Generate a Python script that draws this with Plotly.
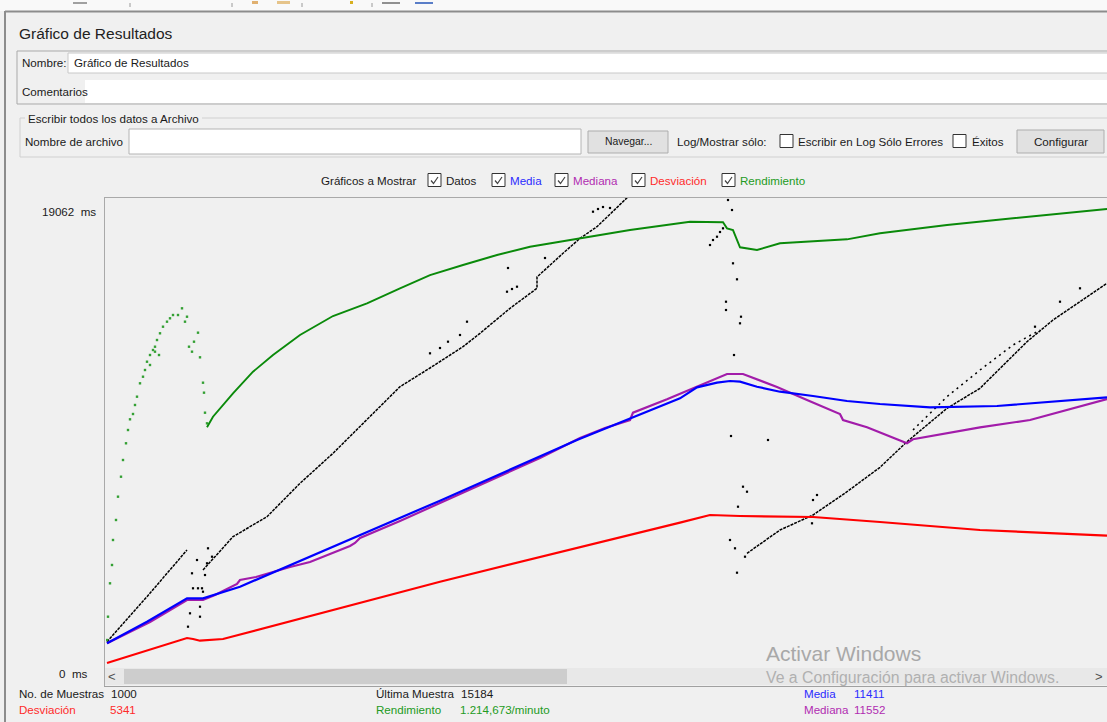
import plotly.graph_objects as go

W, H = 1107, 722
FONT = "Liberation Sans"

# ---------------- series data (x = sample index, y = milliseconds) ----------------
# Datos: individual response times, drawn as dotted runs plus loose points
datos_a_x = [1, 41, 81]
datos_a_y = [990, 2823, 4725]

datos_b_x = [97, 127, 161, 194, 227, 261, 294, 324, 357, 374, 404, 431, 431, 457, 474, 491, 517, 526]
datos_b_y = [3910, 5266, 6081, 7441, 8663, 10020, 11376, 12138, 13005, 13551, 14569, 15384, 15844,
             16809, 17420, 17893, 18911, 19265]

datos_c_x = [641, 674, 707, 741, 774, 801, 841, 874, 921, 947, 974, 1001]
datos_c_y = [4590, 5539, 6150, 7099, 8093, 9136, 10496, 11311, 13209, 14093, 14838, 15587]

datos_c2_x = [807, 841, 874, 891, 907, 934]
datos_c2_y = [9612, 10969, 12056, 12598, 13074, 13685]

datos_sueltos_x = [82, 84, 86, 87, 91, 92, 94, 94, 96, 97, 99, 102, 106, 101,
                   324, 334, 342, 354, 361, 401, 406, 411, 402, 439, 487, 492, 497, 504,
                   604, 607, 611, 614, 617, 622, 626, 627, 631, 620, 620, 635, 634, 628,
                   625, 662, 637, 641, 632, 624, 629, 639, 631,
                   711, 707, 706, 974, 954, 929]
datos_sueltos_y = [1601, 2146, 3776, 3165, 4317, 3165, 2415, 2008, 3165, 3026, 3706, 4794, 4452, 4183,
                   12736, 12952, 13209, 13482, 14024, 15245, 15355, 15449, 16211, 16618, 18504, 18614,
                   18695, 18655,
                   17147, 17351, 17485, 17677, 17827, 18980, 18573, 16402, 15750, 14838, 14500, 14227,
                   13958, 12667, 9368, 9205, 7303, 7099, 6488, 5132, 4794, 4452, 3800,
                   6965, 6761, 5812, 15384, 14838, 13820]

# Media (running average)
media_x = [1, 41, 81, 97, 134, 334, 471, 574, 591, 611, 624, 634, 651, 674, 707, 741, 774, 824, 891,
           941, 1001]
media_y = [925, 1804, 2757, 2757, 3230, 6733, 9205, 10903, 11351, 11539, 11608, 11580, 11376, 11172,
           10997, 10793, 10671, 10537, 10590, 10753, 10944]

# Mediana (running median)
mediana_x = [1, 44, 81, 97, 109, 131, 134, 150, 184, 204, 244, 249, 254, 294, 334, 394, 434, 474,
             499, 524, 527, 561, 591, 621, 637, 671, 701, 734, 737, 761, 801, 807, 874, 924, 1001]
mediana_y = [925, 1792, 2688, 2688, 2892, 3340, 3503, 3625, 4032, 4236, 4888, 5010, 5213, 5906,
             6639, 7739, 8472, 9286, 9694, 10020, 10317, 10863, 11376, 11893, 11893, 11364, 10834,
             10264, 10020, 9722, 9071, 9234, 9722, 10020, 10875]

# Desviación (standard deviation)
desviacion_x = [1, 81, 87, 94, 117, 334, 574, 604, 634, 707, 774, 874, 1001]
desviacion_y = [122, 1140, 1100, 1030, 1100, 3434, 5837, 6150, 6110, 6069, 5865, 5539, 5307]

# Rendimiento (throughput, scaled onto the same axis); first samples appear as loose points
rend_puntos_x = [1, 2, 4, 6, 7, 10, 12, 15, 17, 20, 22, 24, 27, 29, 31, 34, 37, 39, 41, 44, 44, 47,
                 49, 49, 51, 53, 54, 57, 61, 64, 67, 72, 76, 79, 81, 83, 86, 88, 92, 94, 97, 98, 99, 101]
rend_puntos_y = [1059, 2008, 3368, 4114, 5132, 5947, 6896, 7710, 8390, 9071, 9612, 10048, 10264,
                 10631, 10969, 11514, 11783, 12056, 12394, 12667, 12260, 12871, 13005, 12802, 13278,
                 12667, 13551, 13820, 14024, 14162, 14296, 14296, 14569, 14024, 14227, 13005, 12802,
                 13209, 13576, 12573, 11539, 11132, 10317, 9885]
rend_x = [101, 107, 127, 147, 167, 194, 227, 261, 294, 324, 357, 391, 424, 474, 524, 584, 604, 617,
          621, 627, 634, 651, 674, 741, 774, 841, 907, 1001]
rend_y = [9722, 10154, 11107, 11987, 12667, 13482, 14256, 14773, 15384, 15925, 16333, 16740, 17078,
          17420, 17758, 18096, 18084, 18072, 17827, 17758, 17054, 16944, 17217, 17379, 17624, 17962,
          18235, 18614]

Y_MAX = 19062
STATS = {"muestras": "1000", "ultima": "15184", "media": "11411", "mediana": "11552",
         "desviacion": "5341", "rendimiento": "1.214,673/minuto"}

# ---------------- colours ----------------
C_BG = "#f0f0f0"
C_BORDER = "#a9a9a9"
C_BLUE = "#0000ff"
C_PURPLE = "#a21caa"
C_RED = "#ff0000"
C_GREEN = "#0a8a0a"
C_TXT_BLUE = "#2b2bff"
C_TXT_PURPLE = "#b02cb0"
C_TXT_RED = "#ff2a2a"
C_TXT_GREEN = "#239b23"


def fx(px):
    return px / W


def fy(py):
    return 1 - py / H


shapes = []
annotations = []


def rect(x0, y0, x1, y1, fill=None, line=None, lw=1):
    shapes.append(dict(type="rect", xref="paper", yref="paper",
                       x0=fx(x0), x1=fx(x1), y0=fy(y1), y1=fy(y0),
                       fillcolor=fill if fill else "rgba(0,0,0,0)",
                       line=dict(color=line if line else "rgba(0,0,0,0)", width=lw if line else 0),
                       layer="below"))


def hline(x0, x1, y, color=C_BORDER, lw=1):
    shapes.append(dict(type="line", xref="paper", yref="paper", x0=fx(x0), x1=fx(x1),
                       y0=fy(y), y1=fy(y), line=dict(color=color, width=lw), layer="above"))


def vline(x, y0, y1, color=C_BORDER, lw=1):
    shapes.append(dict(type="line", xref="paper", yref="paper", x0=fx(x), x1=fx(x),
                       y0=fy(y0), y1=fy(y1), line=dict(color=color, width=lw), layer="above"))


def text(x, y, s, size=11.6, color="#1a1a1a", anchor="left", family=FONT):
    annotations.append(dict(x=fx(x), y=fy(y), xref="paper", yref="paper", text=s, showarrow=False,
                            xanchor=anchor, yanchor="middle", borderpad=0,
                            font=dict(size=size, color=color, family=family)))


def checkbox(x, y, checked):
    rect(x, y - 6.5, x + 13, y + 6.5, fill="#ffffff", line="#333333")
    if checked:
        p = "M {} {} L {} {} L {} {}".format(fx(x + 3), fy(y + 0.5), fx(x + 5.5), fy(y + 3.5),
                                            fx(x + 10), fy(y - 3))
        shapes.append(dict(type="path", xref="paper", yref="paper", path=p,
                           line=dict(color="#444444", width=1.2), layer="above"))


# ---------------- window chrome ----------------
rect(0, 0, W, 11, fill="#f9f9f9")
for sx in [130, 232, 302, 372]:
    vline(sx, 3, 7, color="#9a9a9a")
rect(73, 2, 87, 4, fill="#a0a0a0")
rect(252, 1, 258, 4, fill="#e0b070")
rect(277, 1, 290, 4, fill="#e6c48a")
rect(350, 1, 353, 4, fill="#d8b020")
rect(382, 2, 400, 4, fill="#909090")
rect(415, 2, 433, 4, fill="#5a7ec8")
hline(5, W, 11.5, color="#8c8c8c", lw=2)
vline(5, 11, H, color="#8c8c8c", lw=2)

text(18, 34, "Gráfico de Resultados", size=15.5, color="#222222")

# name / comments block
rect(17, 51, W + 2, 104, line=C_BORDER)
rect(68, 53, W + 2, 73, fill="#ffffff", line="#c8c8c8")
text(21, 63, "Nombre:")
text(73, 63, "Gráfico de Resultados")
rect(85, 80, W + 2, 103, fill="#ffffff")
text(21, 91, "Comentarios")

# file group
rect(20, 118, W + 2, 157, line="#d0d0d0")
rect(25, 112, 202, 124, fill=C_BG)
text(27, 118, "Escribir todos los datos a Archivo")
text(24, 141, "Nombre de archivo")
rect(129, 129, 581, 154, fill="#ffffff", line="#b4b4b4")
rect(588, 131, 668, 153, fill="#e1e1e1", line="#adadad")
text(628, 141, "Navegar...", size=10.4, anchor="center")
text(676, 141, "Log/Mostrar sólo:")
checkbox(780, 141, False)
text(797, 141, "Escribir en Log Sólo Errores")
checkbox(953, 141, False)
text(971, 141, "Éxitos")
rect(1017, 130, 1104, 153, fill="#e1e1e1", line="#adadad")
text(1060.5, 141, "Configurar", anchor="center")

# series selector row
text(320, 180, "Gráficos a Mostrar")
for bx, lab, col in [(428, "Datos", "#1a1a1a"), (492, "Media", C_TXT_BLUE), (555, "Mediana", C_TXT_PURPLE),
                     (632, "Desviación", C_TXT_RED), (722, "Rendimiento", C_TXT_GREEN)]:
    checkbox(bx, 180, True)
    text(bx + 17, 180, lab, color=col)

# plot frame + scrollbar
hline(104, W, 197.5, color=C_BORDER)
vline(104.5, 197, 687, color=C_BORDER)
rect(105, 668, W + 2, 685, fill="#e8e8e8")
rect(124, 669, 567, 684, fill="#cdcdcd")
hline(104, W, 686.5, color="#a0a0a0")
text(112, 676, "<", size=13, color="#505050", anchor="center")
text(1099, 676, ">", size=13, color="#505050", anchor="center")

text(97, 211, "{}  ms".format(Y_MAX), anchor="right")
text(89, 673, "0  ms", anchor="right")

# statistics footer
text(18, 693, "No. de Muestras")
text(110, 693, STATS["muestras"])
text(375, 693, "Última Muestra")
text(460, 693, STATS["ultima"])
text(803, 693, "Media", color=C_TXT_BLUE)
text(853, 693, STATS["media"], color=C_TXT_BLUE)
text(18, 709, "Desviación", color=C_TXT_RED)
text(109, 709, STATS["desviacion"], color=C_TXT_RED)
text(375, 709, "Rendimiento", color=C_TXT_GREEN)
text(459, 709, STATS["rendimiento"], color=C_TXT_GREEN)
text(803, 709, "Mediana", color=C_TXT_PURPLE)
text(853, 709, STATS["mediana"], color=C_TXT_PURPLE)

# OS activation watermark
text(765, 653, "Activar Windows", size=21, color="#a8a8a8")
text(765, 677, "Ve a Configuración para activar Windows.", size=15.8, color="#b0b0b0")

# ---------------- traces ----------------
fig = go.Figure()


def run(xs, ys, dash="3px,1px", width=1.5):
    fig.add_trace(go.Scatter(x=xs, y=ys, mode="lines", hoverinfo="skip",
                             line=dict(color="#000000", width=width, dash=dash)))


run(datos_a_x, datos_a_y)
run(datos_b_x, datos_b_y)
run(datos_c_x, datos_c_y)
run(datos_c2_x, datos_c2_y, dash="2px,4px")
fig.add_trace(go.Scatter(x=datos_sueltos_x, y=datos_sueltos_y, mode="markers", hoverinfo="skip",
                         marker=dict(symbol="square", size=2.2, color="#000000", line=dict(width=0))))

fig.add_trace(go.Scatter(x=mediana_x, y=mediana_y, mode="lines", hoverinfo="skip",
                         line=dict(color=C_PURPLE, width=2.2)))
fig.add_trace(go.Scatter(x=media_x, y=media_y, mode="lines", hoverinfo="skip",
                         line=dict(color=C_BLUE, width=2.2)))
fig.add_trace(go.Scatter(x=desviacion_x, y=desviacion_y, mode="lines", hoverinfo="skip",
                         line=dict(color=C_RED, width=2.2)))
fig.add_trace(go.Scatter(x=rend_puntos_x, y=rend_puntos_y, mode="markers", hoverinfo="skip",
                         marker=dict(symbol="square", size=2.4, color="#34a034", line=dict(width=0))))
fig.add_trace(go.Scatter(x=rend_x, y=rend_y, mode="lines", hoverinfo="skip",
                         line=dict(color=C_GREEN, width=1.9)))

# 1 sample per pixel horizontally; 0 ms sits one pixel above the frame bottom
px_per_ms = (666 - 198) / Y_MAX
fig.update_layout(
    width=W, height=H, margin=dict(l=0, r=0, t=0, b=0),
    paper_bgcolor=C_BG, plot_bgcolor=C_BG, showlegend=False,
    xaxis=dict(domain=[fx(106), 1], range=[0, 1001], visible=False, fixedrange=True),
    yaxis=dict(domain=[fy(667), fy(198)], range=[-1 / px_per_ms, Y_MAX], visible=False,
               fixedrange=True),
    shapes=shapes, annotations=annotations,
)

fig.write_html("out.html", config={"displayModeBar": False})
